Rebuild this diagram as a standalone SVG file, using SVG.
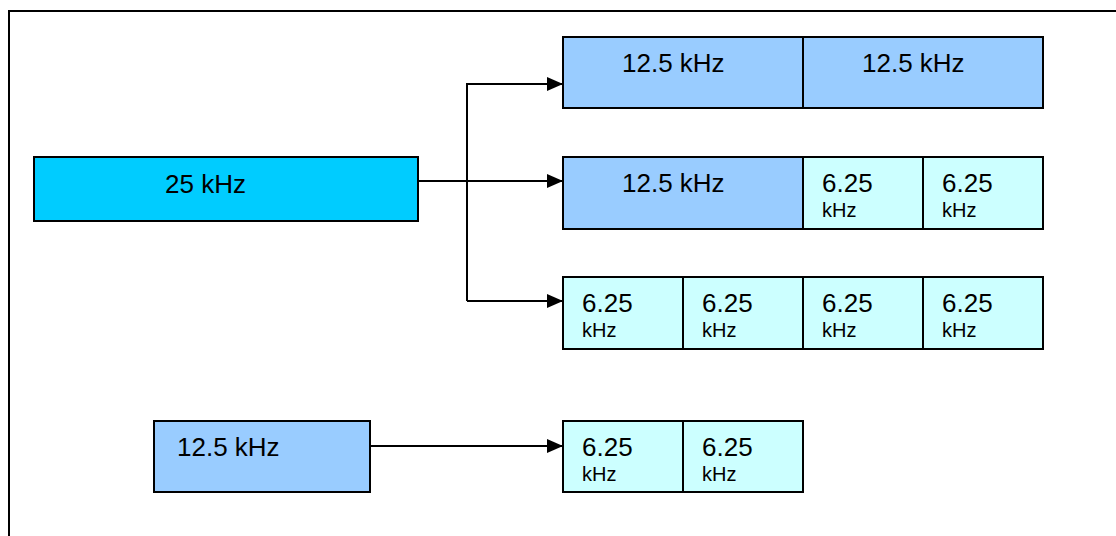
<svg xmlns="http://www.w3.org/2000/svg" width="1116" height="536" viewBox="0 0 1116 536">
<style>
  .box { stroke: #000; stroke-width: 2; }
  .c25 { fill: #00CCFF; }
  .c125 { fill: #99CCFF; }
  .c625 { fill: #CCFFFF; }
  .big { font-family: "Liberation Sans", Arial, sans-serif; font-size: 26px; fill: #000; }
  .small { font-family: "Liberation Sans", Arial, sans-serif; font-size: 20px; fill: #000; }
  .conn { fill: none; stroke: #000; stroke-width: 2; }
</style>
<defs>
  <marker id="arrow" markerUnits="userSpaceOnUse" markerWidth="16" markerHeight="14" refX="15" refY="7" orient="auto">
    <path d="M0,0 L16,7 L0,14 Z" fill="#000"/>
  </marker>
</defs>
<rect width="1116" height="536" fill="#fff"/>
<path d="M9,536 V11 H1116" fill="none" stroke="#000" stroke-width="2"/>

<g id="n25">
  <rect class="box c25" x="34" y="157" width="384" height="64"/>
  <text class="big" x="165" y="193">25 kHz</text>
</g>

<g id="r1a"><rect class="box c125" x="563" y="37" width="240" height="71"/><text class="big" x="622" y="72">12.5 kHz</text></g>
<g id="r1b"><rect class="box c125" x="803" y="37" width="240" height="71"/><text class="big" x="862" y="72">12.5 kHz</text></g>

<g id="r2a"><rect class="box c125" x="563" y="157" width="240" height="72"/><text class="big" x="622" y="192">12.5 kHz</text></g>
<g id="r2b"><rect class="box c625" x="803" y="157" width="120" height="72"/><text class="big" x="822" y="192">6.25</text><text class="small" x="822" y="217">kHz</text></g>
<g id="r2c"><rect class="box c625" x="923" y="157" width="120" height="72"/><text class="big" x="942" y="192">6.25</text><text class="small" x="942" y="217">kHz</text></g>

<g id="r3a"><rect class="box c625" x="563" y="277" width="120" height="72"/><text class="big" x="582" y="312">6.25</text><text class="small" x="582" y="337">kHz</text></g>
<g id="r3b"><rect class="box c625" x="683" y="277" width="120" height="72"/><text class="big" x="702" y="312">6.25</text><text class="small" x="702" y="337">kHz</text></g>
<g id="r3c"><rect class="box c625" x="803" y="277" width="120" height="72"/><text class="big" x="822" y="312">6.25</text><text class="small" x="822" y="337">kHz</text></g>
<g id="r3d"><rect class="box c625" x="923" y="277" width="120" height="72"/><text class="big" x="942" y="312">6.25</text><text class="small" x="942" y="337">kHz</text></g>

<g id="n125"><rect class="box c125" x="154" y="421" width="216" height="71"/><text class="big" x="177" y="456">12.5 kHz</text></g>

<g id="r4a"><rect class="box c625" x="563" y="421" width="120" height="71"/><text class="big" x="582" y="456">6.25</text><text class="small" x="582" y="481">kHz</text></g>
<g id="r4b"><rect class="box c625" x="683" y="421" width="120" height="71"/><text class="big" x="702" y="456">6.25</text><text class="small" x="702" y="481">kHz</text></g>

<g id="connectors">
  <path class="conn" d="M418,181 H562" marker-end="url(#arrow)"/>
  <path class="conn" d="M467,301 V84 H562" marker-end="url(#arrow)"/>
  <path class="conn" d="M467,301 H562" marker-end="url(#arrow)"/>
  <path class="conn" d="M370,446 H562" marker-end="url(#arrow)"/>
</g>
</svg>
